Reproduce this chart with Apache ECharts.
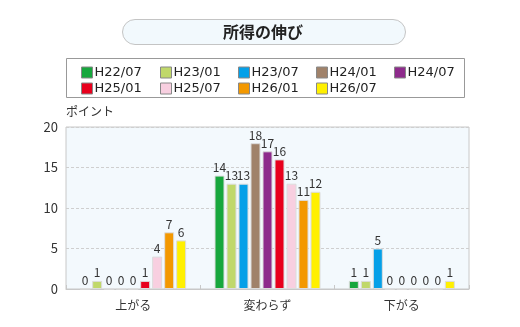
<!DOCTYPE html>
<html><head><meta charset="utf-8">
<script src="https://cdn.jsdelivr.net/npm/echarts@6/dist/echarts.min.js"></script>
<style>html,body{margin:0;padding:0;background:#fff}#c{width:520px;height:327px}</style>
</head><body><div id="c"></div>
<script>
const categories = ['上がる', '変わらず', '下がる'];
const periods = ['H22/07','H23/01','H23/07','H24/01','H24/07','H25/01','H25/07','H26/01','H26/07'];
const v_H22_07 = [0, 14, 1];
const v_H23_01 = [1, 13, 1];
const v_H23_07 = [0, 13, 5];
const v_H24_01 = [0, 18, 0];
const v_H24_07 = [0, 17, 0];
const v_H25_01 = [1, 16, 0];
const v_H25_07 = [4, 13, 0];
const v_H26_01 = [7, 11, 0];
const v_H26_07 = [6, 12, 1];
const values = [v_H22_07, v_H23_01, v_H23_07, v_H24_01, v_H24_07, v_H25_01, v_H25_07, v_H26_01, v_H26_07];
const colors = ['#17a73d','#c0d86a','#05a0e8','#a0826a','#8e2b8c','#e8001d','#f8cfe0','#f39800','#fff000'];
const yTicks = [0, 5, 10, 15, 20];

const FONT = '"Noto Sans CJK JP", "Noto Sans", sans-serif';
const chart = echarts.init(document.getElementById('c'));
const series = periods.map((p, i) => ({
  name: p, type: 'bar', data: values[i], barWidth: 10, barGap: '20%',
  itemStyle: { color: colors[i], borderColor: '#dcdcdc', borderWidth: 1 },
  label: { show: true, position: 'top', distance: 2, color: '#333', fontSize: 12, fontFamily: FONT },
  animation: false
}));
const colX = [76, 155, 233, 311, 389];
const legends = periods.map((p, i) => ({
  left: colX[i % 5], top: i < 5 ? 61 : 77, data: [p],
  itemWidth: 11, itemHeight: 11, itemGap: 0, icon: 'rect',
  itemStyle: { borderColor: '#888', borderWidth: 1 },
  textStyle: { fontSize: 13, color: '#222', fontFamily: '"DejaVu Sans", sans-serif', padding: [0,0,0,-3] },
  selectedMode: false
}));
chart.setOption({
  animation: false,
  graphic: [
    { type: 'rect', shape: { x: 122.5, y: 19.5, width: 283, height: 25, r: 12.5 },
      style: { fill: '#f2f9fd', stroke: '#c4c4c4', lineWidth: 1 } },
    { type: 'text', x: 263, y: 32, style: { text: '所得の伸び', font: 'bold 16px ' + FONT, fill: '#222', textAlign: 'center', textVerticalAlign: 'middle' } },
    { type: 'rect', shape: { x: 66.5, y: 58.5, width: 398, height: 39 },
      style: { fill: '#fff', stroke: '#999', lineWidth: 1 }, z: -1 }
  ],
  legend: legends,
  grid: { left: 66, right: 51, top: 127, bottom: 38, show: true, backgroundColor: '#f3f9fd', borderColor: '#c8c8c8', borderWidth: 1 },
  xAxis: {
    type: 'category', data: categories,
    axisLine: { lineStyle: { color: '#c8c8c8', width: 1 } },
    axisTick: { show: true, inside: true, length: 4, lineStyle: { color: '#c8c8c8' } },
    axisLabel: { color: '#333', fontSize: 12, fontFamily: FONT, margin: 10 }
  },
  yAxis: {
    type: 'value', min: yTicks[0], max: yTicks[yTicks.length-1], interval: 5,
    name: 'ポイント', nameLocation: 'end', nameGap: 10,
    nameTextStyle: { color: '#333', fontSize: 12, fontFamily: FONT, align: 'left' },
    axisLine: { show: false }, axisTick: { show: false },
    axisLabel: { color: '#333', fontSize: 13, fontFamily: FONT, margin: 8 },
    splitLine: { lineStyle: { color: '#cfcfcf', type: [3, 2] } }
  },
  series: series
});
</script></body></html>
